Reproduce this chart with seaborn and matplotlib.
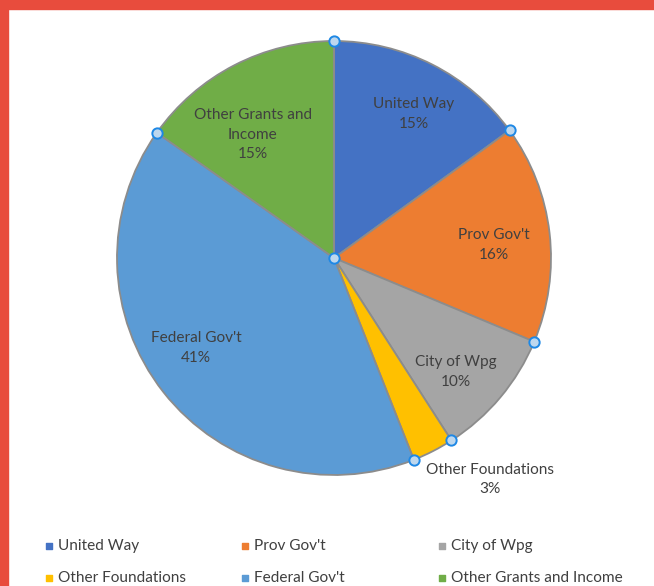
import numpy as np
import matplotlib
matplotlib.use('Agg')
import matplotlib.pyplot as plt
import seaborn as sns
from matplotlib.patches import Rectangle

# data
sources = ["United Way", "Prov Gov't", "City of Wpg", "Other Foundations",
           "Federal Gov't", "Other Grants and Income"]
shares = [15.0, 16.3, 9.6, 3.1, 40.8, 15.2]
slice_labels = ["United Way", "Prov Gov't", "City of Wpg", "Other Foundations",
                "Federal Gov't", "Other Grants and\nIncome"]
colors = ["#4472C4", "#ED7D31", "#A5A5A5", "#FFC000", "#5B9BD5", "#70AD47"]

sns.set_style("white")
plt.rcParams['font.family'] = ['Lato', 'DejaVu Sans']
text_col = "#404040"

W, H = 654, 586
fig = plt.figure(figsize=(W / 100, H / 100), dpi=100)
ax = fig.add_axes([0, 0, 1, 1])

cx, cy, R = 334, H - 258, 217
wedges, _ = ax.pie(shares, colors=colors, startangle=90, counterclock=False,
                   center=(cx, cy), radius=R,
                   wedgeprops=dict(edgecolor="#8c8c8c", linewidth=1.3))
ax.set_xlim(0, W)
ax.set_ylim(0, H)
ax.set_aspect('equal')
ax.axis('off')

# labels inside slices (except the small one)
dist = [0.76, 0.74, 0.77, 1.25, 0.76, 0.68]
shift = [-2, -2, -3, 8, -5, 6]
for w, lab, val, d, s in zip(wedges, slice_labels, shares, dist, shift):
    mid = np.deg2rad((w.theta1 + w.theta2) / 2 + s)
    x = cx + d * R * np.cos(mid)
    y = cy + d * R * np.sin(mid)
    ax.text(x, y, f"{lab}\n{round(val):.0f}%", ha='center', va='center',
            fontsize=11.1, color=text_col, linespacing=1.5)

# selection handles at slice edges and the centre
hx = [cx + R * np.cos(np.deg2rad(w.theta1)) for w in wedges] + [cx]
hy = [cy + R * np.sin(np.deg2rad(w.theta1)) for w in wedges] + [cy]
ax.scatter(hx, hy, s=55, facecolor="#BDD7EE", edgecolor="#1E88E5",
           linewidth=1.4, zorder=5, clip_on=False)

# legend at the bottom, 3 equal columns, row by row
col_x = [49, 245, 442]
row_y = [H - 546, H - 578]
for i, (name, c) in enumerate(zip(sources, colors)):
    x, y = col_x[i % 3], row_y[i // 3]
    ax.scatter([x], [y], marker='s', s=20, color=c, clip_on=False, zorder=5)
    ax.text(x + 9, y, name, ha='left', va='center', fontsize=11.1,
            color=text_col)

# red frame from the screenshot
fig.patches.append(Rectangle((0, 0), 8 / W, 1, transform=fig.transFigure,
                             color="#E84C3D", zorder=10))
fig.patches.append(Rectangle((0, 1 - 9 / H), 1, 9 / H, transform=fig.transFigure,
                             color="#E84C3D", zorder=10))

fig.savefig("out.png", dpi=100, facecolor='white')
